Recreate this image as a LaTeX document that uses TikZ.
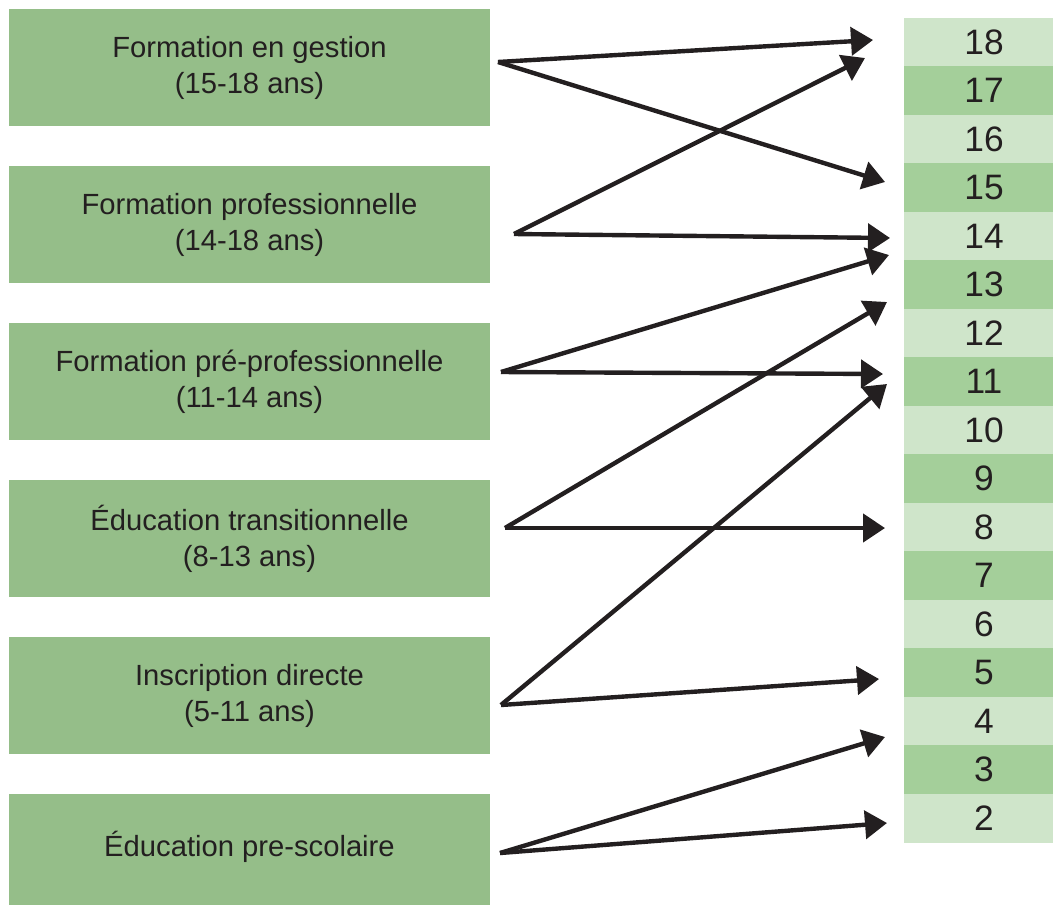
\documentclass[tikz,border=0pt]{standalone}
\usepackage{fontspec}
\setmainfont{Liberation Sans}
\usetikzlibrary{arrows.meta}
\definecolor{boxgreen}{HTML}{95BE89}
\definecolor{celllight}{HTML}{CFE5CA}
\definecolor{celldark}{HTML}{A4CF9A}
\definecolor{inkgray}{HTML}{231F20}

\begin{document}
\begin{tikzpicture}[x=0.75pt, y=-0.75pt,
    stage/.style={fill=boxgreen, text=inkgray, inner sep=0pt, align=center,
      minimum width=360.75pt, minimum height=87.75pt,
      font=\fontsize{21.9}{27}\selectfont},
    cell/.style={text=inkgray, inner sep=0pt, minimum width=120pt,
      minimum height=36.4pt, font=\fontsize{26.5}{30}\selectfont},
    link/.style={draw=inkgray, line width=3.3pt,
      -{Triangle[length=16.5pt, width=21pt]}}]

    \useasboundingbox (0,0) rectangle (1053,904);

    % Stages (left column)
    \node[stage] (gestion) at (249.5, 67.5) {Formation en gestion\\(15-18 ans)};
    \node[stage] (pro)     at (249.5, 224.5) {Formation professionnelle\\(14-18 ans)};
    \node[stage] (prepro)  at (249.5, 381.5) {Formation pré-professionnelle\\(11-14 ans)};
    \node[stage] (trans)   at (249.5, 538.5) {Éducation transitionnelle\\(8-13 ans)};
    \node[stage] (direct)  at (249.5, 695.5) {Inscription directe\\(5-11 ans)};
    \node[stage] (presco)  at (249.5, 852.5)
        {\raisebox{4.5pt}[\height][\depth]{Éducation pre-scolaire}};

    % Age scale (right column)
    \foreach \n/\tone [evaluate=\n as \yy using {42.25+48.5*(18-\n)}] in
        {18/celllight, 17/celldark, 16/celllight, 15/celldark, 14/celllight,
         13/celldark, 12/celllight, 11/celldark, 10/celllight, 9/celldark,
         8/celllight, 7/celldark, 6/celllight, 5/celldark, 4/celllight,
         3/celldark, 2/celllight}
        \node[cell, fill=\tone] (c\n) at (984, \yy) {\n};

    % Start points of the links
    \coordinate (sGestion) at (498, 62);
    \coordinate (sPro)     at (514, 234);
    \coordinate (sPrepro)  at (501, 372);
    \coordinate (sTrans)   at (505, 528);
    \coordinate (sDirect)  at (501, 705);
    \coordinate (sPresco)  at (500, 853);

    % Tips of the links
    \coordinate (tGestionHi) at (873, 40);
    \coordinate (tGestionLo) at (885, 182);
    \coordinate (tProHi)     at (865, 58);
    \coordinate (tProLo)     at (890, 238);
    \coordinate (tPreproHi)  at (889, 255);
    \coordinate (tPreproLo)  at (883, 374);
    \coordinate (tTransHi)   at (887, 302);
    \coordinate (tTransLo)   at (885, 528);
    \coordinate (tDirectHi)  at (887, 384);
    \coordinate (tDirectLo)  at (879, 679);
    \coordinate (tPrescoHi)  at (885, 737);
    \coordinate (tPrescoLo)  at (887, 823);

    % Links
    \draw[link] (sGestion) -- (tGestionHi);
    \draw[link] (sGestion) -- (tGestionLo);
    \draw[link] (sPro) -- (tProHi);
    \draw[link] (sPro) -- (tProLo);
    \draw[link] (sPrepro) -- (tPreproHi);
    \draw[link] (sPrepro) -- (tPreproLo);
    \draw[link] (sTrans) -- (tTransHi);
    \draw[link] (sTrans) -- (tTransLo);
    \draw[link] (sDirect) -- (tDirectHi);
    \draw[link] (sDirect) -- (tDirectLo);
    \draw[link] (sPresco) -- (tPrescoHi);
    \draw[link] (sPresco) -- (tPrescoLo);

\end{tikzpicture}
\end{document}
